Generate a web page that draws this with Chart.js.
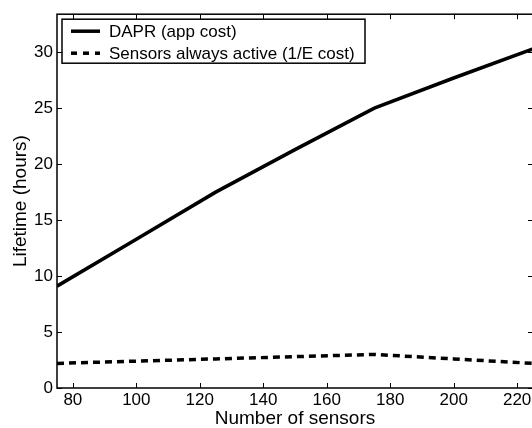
<!DOCTYPE html>
<html lang="en">
<head>
  <meta charset="UTF-8">
  <title>Lifetime vs number of sensors</title>
  <script src="https://cdn.jsdelivr.net/npm/chart.js"></script>
  <style>
    html, body { margin: 0; padding: 0; overflow: hidden; background: #fff; }
    #wrap { position: absolute; left: 0; top: 0; width: 540px; height: 430px; }
  </style>
</head>
<body>
  <div id="wrap"><canvas id="chart"></canvas></div>
  <script>
    const sensors = [75, 100, 125, 150, 175, 200, 225];
    const daprLifetime = [9.1, 13.3, 17.5, 21.3, 25.0, 27.7, 30.3];
    const alwaysActiveLifetime = [2.2, 2.4, 2.6, 2.8, 3.0, 2.6, 2.2];
    const xTicks = [80, 100, 120, 140, 160, 180, 200, 220];
    const yTicks = [0, 5, 10, 15, 20, 25, 30];
    const seriesNames = ['DAPR (app cost)', 'Sensors always active (1/E cost)'];

    const FONT = 'Liberation Sans, Arial, Helvetica, sans-serif';
    const FS = 17;
    const TITLE_FS = 19;

    // inward ticks on all four sides plus the box
    const frame = {
      id: 'frame',
      afterDraw(chart) {
        const { ctx, chartArea: a, scales } = chart;
        ctx.save();
        ctx.strokeStyle = '#000';
        ctx.lineWidth = 1;
        const len = 5;
        ctx.beginPath();
        xTicks.forEach(v => {
          const x = Math.round(scales.x.getPixelForValue(v)) + 0.5;
          ctx.moveTo(x, a.bottom); ctx.lineTo(x, a.bottom - len);
          ctx.moveTo(x, a.top); ctx.lineTo(x, a.top + len);
        });
        yTicks.forEach(v => {
          const y = Math.round(scales.y.getPixelForValue(v)) + 0.5;
          ctx.moveTo(a.left, y); ctx.lineTo(a.left + len, y);
          ctx.moveTo(a.right, y); ctx.lineTo(a.right - len, y);
        });
        ctx.stroke();
        ctx.lineWidth = 1.5;
        ctx.strokeRect(a.left, a.top, a.right - a.left, a.bottom - a.top);
        ctx.restore();
      }
    };

    // legend box inside the plot, upper left
    const boxLegend = {
      id: 'boxLegend',
      afterDraw(chart) {
        const { ctx, chartArea: a } = chart;
        const bx = a.left + 5, by = a.top + 5, bw = 303, bh = 44;
        ctx.save();
        ctx.fillStyle = '#fff';
        ctx.fillRect(bx, by, bw, bh);
        ctx.strokeStyle = '#000';
        ctx.lineWidth = 1.5;
        ctx.strokeRect(bx, by, bw, bh);
        ctx.font = FS + 'px ' + FONT;
        ctx.textBaseline = 'middle';
        chart.data.datasets.forEach((ds, i) => {
          const y = by + 12 + i * 22;
          ctx.beginPath();
          ctx.setLineDash(ds.id === 'dash' ? [6, 6] : []);
          ctx.lineWidth = ds.borderWidth;
          ctx.strokeStyle = ds.borderColor;
          ctx.moveTo(bx + 9, y); ctx.lineTo(bx + 38, y);
          ctx.stroke();
          ctx.setLineDash([]);
          ctx.fillStyle = '#000';
          ctx.fillText(ds.label, bx + 47, y + 1);
        });
        ctx.restore();
      }
    };

    new Chart(document.getElementById('chart'), {
      type: 'line',
      data: {
        datasets: [
          {
            label: seriesNames[0],
            data: sensors.map((x, i) => ({ x: x, y: daprLifetime[i] })),
            borderColor: '#000',
            borderWidth: 3.5,
            pointRadius: 0,
            fill: false
          },
          {
            id: 'dash',
            label: seriesNames[1],
            data: sensors.map((x, i) => ({ x: x, y: alwaysActiveLifetime[i] })),
            borderColor: '#000',
            borderWidth: 3.5,
            borderDash: [7, 5],
            pointRadius: 0,
            fill: false
          }
        ]
      },
      options: {
        responsive: true,
        maintainAspectRatio: false,
        animation: false,
        layout: { padding: { top: 10, right: 7, left: 0, bottom: 0 } },
        plugins: { legend: { display: false }, tooltip: { enabled: false } },
        scales: {
          x: {
            type: 'linear',
            min: 75,
            max: 225,
            afterBuildTicks: s => { s.ticks = xTicks.map(v => ({ value: v })); },
            afterFit: s => { s.height = 42; },
            grid: { display: false, drawTicks: false },
            border: { display: false },
            ticks: { color: '#000', font: { family: FONT, size: FS }, padding: 2, maxRotation: 0, autoSkip: false },
            title: { display: true, text: 'Number of sensors', color: '#000', font: { family: FONT, size: TITLE_FS }, padding: { top: 0, bottom: 0 } }
          },
          y: {
            min: 0,
            max: 33.4,
            afterBuildTicks: s => { s.ticks = yTicks.map(v => ({ value: v })); },
            afterFit: s => { s.width = 57; },
            grid: { display: false, drawTicks: false },
            border: { display: false },
            ticks: { color: '#000', font: { family: FONT, size: FS }, padding: 4 },
            title: { display: true, text: 'Lifetime (hours)', color: '#000', font: { family: FONT, size: TITLE_FS }, padding: { top: 9, bottom: 0 } }
          }
        }
      },
      plugins: [frame, boxLegend]
    });
  </script>
</body>
</html>
